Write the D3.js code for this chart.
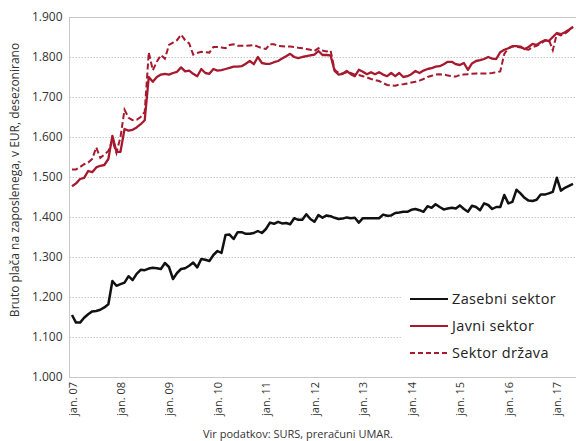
<!DOCTYPE html>
<html>
<head>
<meta charset="utf-8">
<script src="https://cdn.jsdelivr.net/npm/d3@7"></script>
<style>
body{margin:0;background:#fff;}
svg{display:block;}
text{font-family:"Open Sans","Noto Sans",sans-serif;}
</style>
</head>
<body>
<svg id="chart" width="576" height="441"></svg>
<script>
// Monthly data, jan. 2007 – maj 2017 (EUR, desezonirano)
const zasebni = [1155,1136,1136,1148,1157,1164,1165,1168,1174,1182,1240,1228,1232,1236,1252,1242,1258,1268,1267,1271,1273,1272,1270,1285,1275,1245,1260,1270,1272,1278,1286,1274,1295,1293,1290,1305,1315,1310,1355,1356,1345,1362,1362,1358,1358,1360,1365,1360,1370,1386,1383,1388,1384,1385,1382,1397,1393,1393,1407,1395,1388,1405,1398,1404,1402,1398,1395,1396,1399,1397,1398,1386,1397,1397,1397,1397,1397,1406,1403,1404,1410,1411,1413,1413,1418,1420,1417,1413,1427,1423,1432,1425,1419,1421,1423,1421,1429,1420,1413,1428,1425,1417,1434,1430,1420,1425,1425,1455,1434,1438,1468,1459,1448,1441,1440,1443,1456,1456,1459,1463,1498,1466,1473,1478,1483];
const javni = [1477,1484,1495,1498,1515,1512,1524,1528,1530,1545,1603,1563,1563,1620,1616,1618,1624,1632,1642,1750,1738,1750,1756,1758,1756,1760,1763,1774,1764,1766,1758,1752,1770,1760,1758,1770,1766,1767,1770,1773,1776,1776,1777,1783,1790,1782,1800,1785,1783,1783,1787,1790,1796,1802,1808,1800,1797,1800,1802,1804,1806,1815,1805,1805,1804,1765,1756,1758,1765,1757,1752,1768,1763,1757,1762,1757,1762,1756,1752,1760,1752,1760,1750,1752,1757,1765,1760,1766,1770,1772,1776,1777,1782,1788,1788,1782,1780,1785,1768,1784,1790,1792,1795,1800,1796,1795,1812,1818,1822,1827,1827,1826,1820,1825,1833,1830,1837,1842,1840,1850,1860,1857,1862,1868,1875];
const drzava = [1519,1519,1525,1532,1536,1545,1574,1548,1556,1565,1592,1560,1600,1668,1648,1642,1643,1650,1663,1812,1767,1788,1805,1796,1830,1836,1842,1856,1842,1834,1806,1810,1813,1812,1811,1825,1825,1824,1822,1830,1832,1828,1828,1828,1829,1830,1826,1822,1820,1832,1832,1828,1827,1826,1826,1825,1823,1822,1820,1818,1815,1822,1816,1814,1816,1768,1760,1759,1762,1760,1756,1755,1752,1749,1745,1742,1740,1735,1730,1729,1728,1731,1732,1734,1736,1738,1741,1745,1750,1753,1756,1757,1756,1754,1752,1751,1755,1756,1757,1758,1759,1759,1759,1759,1760,1762,1764,1808,1822,1826,1826,1824,1820,1818,1825,1828,1834,1840,1844,1817,1858,1854,1858,1866,1876];
const seriesNames = ["Zasebni sektor","Javni sektor","Sektor država"];
const xTickLabels = ["jan. 07","jan. 08","jan. 09","jan. 10","jan. 11","jan. 12","jan. 13","jan. 14","jan. 15","jan. 16","jan. 17"];
const yTicks = [1000,1100,1200,1300,1400,1500,1600,1700,1800,1900];
const yTitle = "Bruto plača na zaposlenega, v EUR, desezonirano";
const sourceText = "Vir podatkov: SURS, preračuni UMAR.";

(function(){
const svg = d3.select("#chart");
const pL = 69.5, pT = 17, pB = 377, pR = 576;
const x = d3.scaleLinear().domain([0, 124]).range([72, 573]);
const y = d3.scaleLinear().domain([1000, 1900]).range([pB, pT]);

// gridlines
svg.append("g").selectAll("line").data(yTicks.slice(1, -1)).join("line")
  .attr("x1", pL).attr("x2", pR)
  .attr("y1", d => Math.round(y(d)) + 0.5).attr("y2", d => Math.round(y(d)) + 0.5)
  .attr("stroke", "#c8c8c8").attr("stroke-width", 1).attr("stroke-dasharray", "1.5,1.5");
// frame
svg.append("line").attr("x1", pL).attr("x2", pR).attr("y1", pT + 0.5).attr("y2", pT + 0.5).attr("stroke", "#c8c8c8");
svg.append("line").attr("x1", pL).attr("x2", pR).attr("y1", pB + 0.5).attr("y2", pB + 0.5).attr("stroke", "#c8c8c8");
svg.append("line").attr("x1", pL).attr("x2", pL).attr("y1", pT).attr("y2", pB + 1).attr("stroke", "#c8c8c8");

// y axis
const yAxis = d3.axisLeft(y).tickValues(yTicks).tickSize(0).tickPadding(0)
  .tickFormat(d => d3.format(",.0f")(d).replace(",", "."));
const gy = svg.append("g").attr("transform", `translate(${pL - 7},0)`).call(yAxis);
gy.select(".domain").remove();
gy.selectAll("text").attr("font-size", 12).attr("fill", "#333").attr("font-family", "'Open Sans',sans-serif");

// x axis
const xAxis = d3.axisBottom(x).tickValues(d3.range(0, 121, 12)).tickSize(0)
  .tickFormat((d, i) => xTickLabels[i]);
const gx = svg.append("g").attr("transform", `translate(0,${pB})`).call(xAxis);
gx.select(".domain").remove();
gx.selectAll("text").attr("font-size", 11).attr("fill", "#333")
  .attr("text-anchor", "end").attr("dy", null)
  .attr("transform", "translate(4,5) rotate(-90)").attr("x", 0).attr("y", 0);

// y title
svg.append("text").attr("transform", "translate(19,180) rotate(-90)")
  .attr("text-anchor", "middle").attr("font-size", 12).attr("fill", "#333").text(yTitle);

// source
svg.append("text").attr("x", 298).attr("y", 438).attr("text-anchor", "middle")
  .attr("font-size", 11).attr("fill", "#333").text(sourceText);

// lines
const line = d3.line().x((d, i) => x(i)).y(d => y(d));
const red = "#a6192e";
svg.append("path").datum(drzava).attr("d", line).attr("fill", "none").attr("stroke", red)
  .attr("stroke-width", 2).attr("stroke-dasharray", "6,3");
svg.append("path").datum(javni).attr("d", line).attr("fill", "none").attr("stroke", red)
  .attr("stroke-width", 2.3).attr("stroke-linejoin", "round");
svg.append("path").datum(zasebni).attr("d", line).attr("fill", "none").attr("stroke", "#111")
  .attr("stroke-width", 2.5).attr("stroke-linejoin", "round");

// legend
const lg = svg.append("g");
lg.append("rect").attr("x", 402).attr("y", 284).attr("width", 174).attr("height", 84).attr("fill", "#fff");
const styles = [{c:"#111", w:2.2, d:null}, {c:red, w:2.2, d:null}, {c:red, w:2, d:"5,3"}];
const ly = [299, 326, 353];
seriesNames.forEach((n, i) => {
  lg.append("line").attr("x1", 410).attr("x2", 448).attr("y1", ly[i]).attr("y2", ly[i])
    .attr("stroke", styles[i].c).attr("stroke-width", styles[i].w).attr("stroke-dasharray", styles[i].d);
  lg.append("text").attr("x", 452).attr("y", ly[i] + 5).attr("font-size", 14.5).attr("fill", "#222")
    .attr("letter-spacing", 0.35).text(n);
});
})();
</script>
</body>
</html>
